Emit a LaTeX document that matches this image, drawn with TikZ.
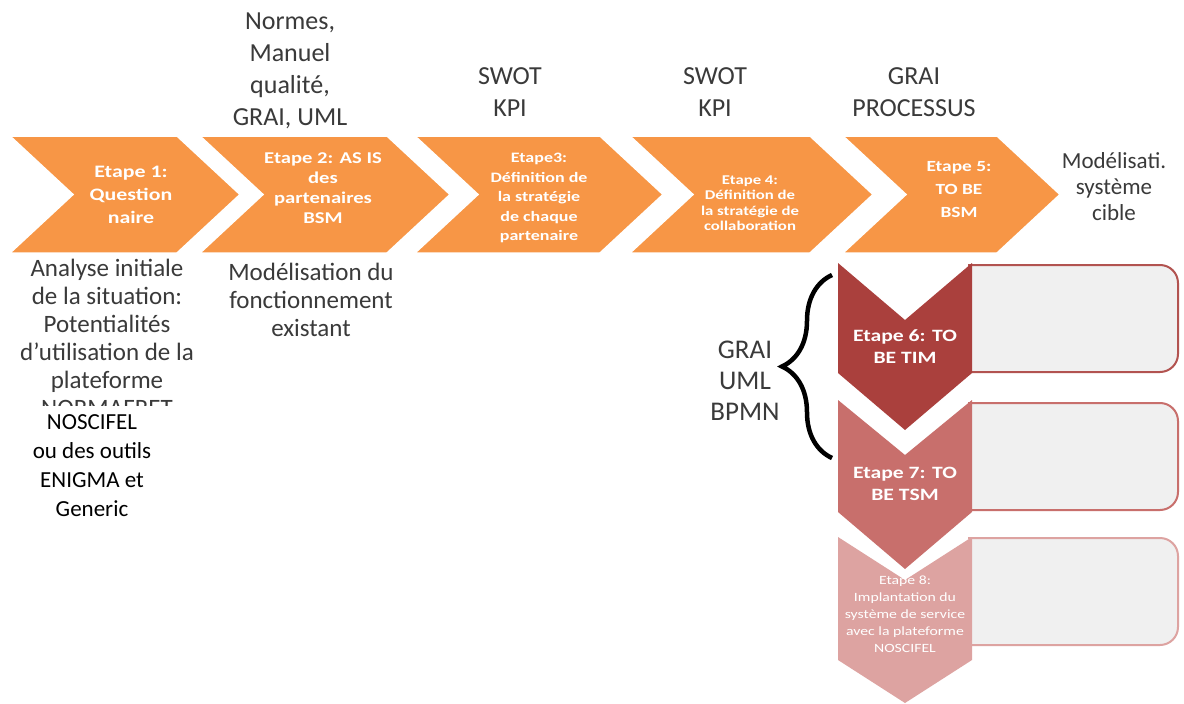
\documentclass[tikz,border=0pt]{standalone}
\usepackage{fontspec}
\setmainfont{Carlito}
\newfontfamily\chevfont{Carlito}[FakeStretch=1.25]
\usetikzlibrary{decorations.pathreplacing}
\definecolor{steporange}{HTML}{F79646}
\definecolor{stepdark}{HTML}{AA403D}
\definecolor{stepmid}{HTML}{C86F6C}
\definecolor{steplight}{HTML}{DDA3A1}
\definecolor{boxgray}{HTML}{F0F0F0}
\definecolor{textgray}{HTML}{3A3A3A}
\tikzset{
  hchevron/.style={fill=steporange, draw=white, line width=1.5pt},
  chevtext/.style n args={2}{text=white, align=center, font=\chevfont\bfseries\fontsize{#1}{#2}\selectfont},
  toollabel/.style={text=textgray, align=center, font=\fontsize{26}{32}\selectfont},
  notelabel/.style={text=textgray, align=center, font=\fontsize{25}{28}\selectfont},
  sidebox/.style={fill=boxgray, line width=2pt, rounded corners=18pt}
}

\begin{document}
\begin{tikzpicture}[x=1pt, y=-1pt]
\clip (0,0) rectangle (1184,704);
\fill[white] (0,0) rectangle (1184,704);

% process chevrons, top row
\foreach \s/\e in {10/240, 200/450, 415/663, 630/873, 843/1060}
  \draw[hchevron] (\s,136) -- (\e-63,136) -- (\e,194.5) -- (\e-63,253) -- (\s,253) -- (\s+63,194.5) -- cycle;

\node[chevtext={17.5}{23}] (etape1) at (131,195) {Etape 1:\\Question\\naire};
\node[chevtext={16.5}{20}] (etape2) at (323,188) {Etape 2: AS IS\\des\\partenaires\\BSM};
\node[chevtext={14.4}{19.5}] (etape3) at (539,198) {Etape3:\\Définition de\\la stratégie\\de chaque\\partenaire};
\node[chevtext={13.4}{15.5}] (etape4) at (750,203) {Etape 4:\\Définition de\\la stratégie de\\collaboration};
\node[chevtext={15.5}{23}] (etape5) at (959,190) {Etape 5:\\TO BE\\BSM};

\node[toollabel] (normes) at (290,71) {Normes,\\Manuel\\qualité,\\GRAI, UML};
\node[toollabel] (swotA) at (510,92) {SWOT\\KPI};
\node[toollabel] (swotB) at (715,92) {SWOT\\KPI};
\node[toollabel] (graiproc) at (914,92) {GRAI\\PROCESSUS};
\node[notelabel, font=\fontsize{23}{26}\selectfont] (cible) at (1114,187) {Modélisati.\\système\\cible};

\node[notelabel] (analyse) at (107,326) {Analyse initiale\\de la situation:\\Potentialités\\d’utilisation de la\\plateforme};
\begin{scope}
  \clip (0,398) rectangle (230,405);
  \node[notelabel, anchor=base, inner sep=0pt] (normafret) at (107,416) {NORMAFRET};
\end{scope}
\node[align=center, text=black, font=\fontsize{23}{29}\selectfont] (noscifel) at (92,466) {NOSCIFEL\\ou des outils\\ENIGMA et\\Generic};
\node[notelabel] (existant) at (311,300) {Modélisation du\\fonctionnement\\existant};

% target system steps, vertical
\draw[sidebox, draw=stepdark!90] (968,265) -- (1178,265) -- (1178,372) -- (968,372);
\draw[sidebox, draw=stepmid] (968,403) -- (1178,403) -- (1178,510) -- (968,510);
\draw[sidebox, draw=steplight] (968,538) -- (1178,538) -- (1178,645) -- (968,645);

\fill[steplight] (838,537) -- (905,580) -- (972,537) -- (972,660) -- (905,703) -- (838,660) -- cycle;
\node[text=white, align=center, font=\chevfont\fontsize{12.6}{17}\selectfont] (etape8) at (905,614) {Etape 8:\\Implantation du\\système de service\\avec la plateforme\\NOSCIFEL};
\fill[stepmid] (838,400) -- (905,455) -- (972,400) -- (972,512) -- (905,569) -- (838,512) -- cycle;
\fill[stepdark] (838,263) -- (905,320) -- (972,263) -- (972,373) -- (905,430) -- (838,373) -- cycle;

\node[chevtext={17.3}{22}] (etape6) at (905,347) {Etape 6: TO\\BE TIM};
\node[chevtext={17.3}{22}] (etape7) at (905,484) {Etape 7: TO\\BE TSM};

\coordinate (braceTop) at (832,275);
\coordinate (braceBot) at (832,458);
\draw[decorate, decoration={brace, amplitude=50pt}, line width=4.5pt] (braceBot) -- (braceTop);
\node[toollabel, font=\fontsize{27}{31}\selectfont] (methods) at (745,381) {GRAI\\UML\\BPMN};
\end{tikzpicture}
\end{document}
